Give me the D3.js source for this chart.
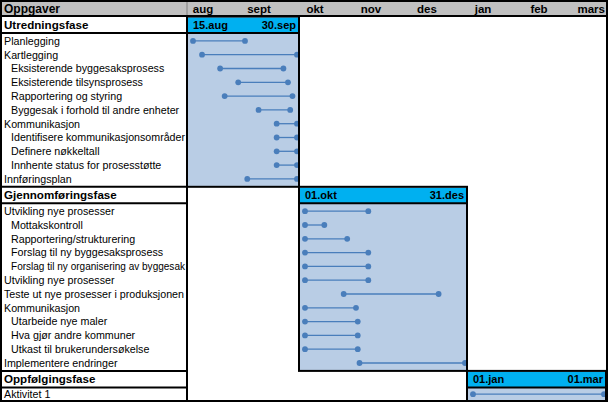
<!DOCTYPE html>
<html><head><meta charset="utf-8">
<script src="https://cdn.jsdelivr.net/npm/d3@7"></script>
<style>
body{margin:0;background:#fff}
svg{display:block;font-family:"Liberation Sans",Arial,sans-serif}
</style>
</head><body>
<svg id="c" width="613" height="404"></svg>
<script>
// ---------- data ----------
const months = ["aug","sept","okt","nov","des","jan","feb","mars"];
const phaseNames = ["Utredningsfase","Gjennomføringsfase","Oppfølgingsfase"];
const phaseStart = ["2011-08-15","2011-10-01","2012-01-01"];
const phaseEnd   = ["2011-09-30","2011-12-31","2012-03-01"];
const phaseFirstMonth = ["aug","okt","jan"];
const phaseLastMonth  = ["sept","des","mars"];

const taskNames = [
  "Planlegging","Kartlegging","Eksisterende byggesaksprosess","Eksisterende tilsynsprosess",
  "Rapportering og styring","Byggesak i forhold til andre enheter","Kommunikasjon",
  "Identifisere kommunikasjonsområder","Definere nøkkeltall","Innhente status for prosesstøtte",
  "Innføringsplan",
  "Utvikling nye prosesser","Mottakskontroll","Rapportering/strukturering",
  "Forslag til ny byggesaksprosess","Forslag til ny organisering av byggesak",
  "Utvikling nye prosesser","Teste ut nye prosesser i produksjonen","Kommunikasjon",
  "Utarbeide nye maler","Hva gjør andre kommuner","Utkast til brukerundersøkelse",
  "Implementere endringer",
  "Aktivitet 1"
];
const taskLevel = [0,0,1,1,1,1,0,1,1,1,0, 0,1,1,1,1,0,0,0,1,1,1,0, 0];
const taskPhase = [0,0,0,0,0,0,0,0,0,0,0, 1,1,1,1,1,1,1,1,1,1,1,1, 2];
const taskStart = [
  "2011-08-15","2011-08-19","2011-08-27","2011-09-04","2011-08-29","2011-09-13","2011-09-21",
  "2011-09-21","2011-09-21","2011-09-21","2011-09-08",
  "2011-10-01","2011-10-01","2011-10-01","2011-10-01","2011-10-01","2011-10-01","2011-10-23",
  "2011-10-01","2011-10-01","2011-10-01","2011-10-01","2011-11-01",
  "2012-01-01"
];
const taskEnd = [
  "2011-09-07","2011-09-30","2011-09-24","2011-09-26","2011-09-28","2011-09-27","2011-09-30",
  "2011-09-30","2011-09-30","2011-09-30","2011-09-30",
  "2011-11-06","2011-10-12","2011-10-25","2011-11-06","2011-11-06","2011-11-06","2011-12-16",
  "2011-10-30","2011-10-31","2011-10-31","2011-10-31","2011-12-31",
  "2012-03-01"
];
const headerLabel = "Oppgaver";

// ---------- setup ----------
const parse = d3.timeParse("%Y-%m-%d");
const no = d3.timeFormatLocale({
  dateTime:"%A %e. %B %Y", date:"%d.%m.%Y", time:"%H:%M:%S", periods:["AM","PM"],
  days:["søndag","mandag","tirsdag","onsdag","torsdag","fredag","lørdag"],
  shortDays:["søn","man","tir","ons","tor","fre","lør"],
  months:["januar","februar","mars","april","mai","juni","juli","august","september","oktober","november","desember"],
  shortMonths:["jan","feb","mar","apr","mai","jun","jul","aug","sep","okt","nov","des"]
});
const fmt = no.format("%d.%b");

const svg = d3.select("#c");
const tableLeft = 1, tableRight = 607, taskColX = 187, headerBottom = 16, tableBottom = 401;
const phaseH = 14.5, taskH = 13.8;
const blue = "#B9CDE5", cyan = "#00B0F0", gray = "#C0C0C0", dot = "#4A7EBB";

const xMonth = d3.scaleBand().domain(months).range([188, 188 + months.length * 56]);
const bw = xMonth.bandwidth();

// rows
const rows = [];
phaseNames.forEach((p, pi) => {
  rows.push({type:"phase", p: pi, name: p});
  taskNames.forEach((t, ti) => { if (taskPhase[ti] === pi) rows.push({type:"task", p: pi, i: ti, name: t, level: taskLevel[ti]}); });
});
let y = headerBottom + 1.5;
rows.forEach((r, k) => {
  if (r.type === "phase") { if (k > 0) y += 2; r.y0 = y; y += phaseH; r.y1 = y; y += 2; }
  else { r.y0 = y; y += taskH; r.y1 = y; }
});
rows[rows.length - 1].y1 = tableBottom - 1;
rows.forEach(r => r.cy = (r.y0 + r.y1) / 2);

// phase geometry
const phases = phaseNames.map((n, pi) => {
  const pr = rows.find(r => r.type === "phase" && r.p === pi);
  const tr = rows.filter(r => r.type === "task" && r.p === pi);
  const x0 = xMonth(phaseFirstMonth[pi]);
  const x1 = Math.min(xMonth(phaseLastMonth[pi]) + bw, tableRight);
  const s = parse(phaseStart[pi]), e = parse(phaseEnd[pi]);
  return {pi, pr, tr, x0, x1, s, e,
    x: d3.scaleTime().domain([s, e]).range([x0 + 5, x1 - 3]),
    bottom: tr[tr.length - 1].y1 + 1};
});

// header
svg.append("rect").attr("x", tableLeft).attr("y", 1).attr("width", tableRight - tableLeft).attr("height", headerBottom - 1).attr("fill", gray);
svg.append("line").attr("x1", taskColX).attr("x2", taskColX).attr("y1", 2).attr("y2", headerBottom - 1)
  .attr("stroke", "#808080").attr("stroke-width", 1);
svg.append("text").attr("x", 4).attr("y", 8.6).attr("dy", "0.36em")
  .attr("font-size", 12).attr("font-weight", "bold").text(headerLabel);
svg.selectAll("text.month").data(months).join("text").attr("class", "month")
  .attr("y", 8.6).attr("dy", "0.36em").attr("font-size", 11.5).attr("font-weight", "bold")
  .attr("text-anchor", "middle").text(d => d)
  .each(function(d) {
    const w = this.getComputedTextLength();
    let cx = xMonth(d) + 15;
    if (cx + w / 2 > tableRight - 2) cx = tableRight - 2 - w / 2;
    d3.select(this).attr("x", cx);
  });

// phase boxes
phases.forEach(ph => {
  const top = ph.pr.y0 - 1;
  svg.append("rect").attr("x", ph.x0).attr("y", top).attr("width", ph.x1 - ph.x0).attr("height", ph.bottom - top).attr("fill", blue);
  svg.append("rect").attr("x", ph.x0).attr("y", ph.pr.y0).attr("width", ph.x1 - ph.x0).attr("height", ph.pr.y1 - ph.pr.y0 + 1).attr("fill", cyan);
  svg.append("text").attr("x", ph.x0 + 5).attr("y", ph.pr.cy).attr("dy", "0.36em")
    .attr("font-size", 11).attr("font-weight", "bold").text(fmt(ph.s));
  svg.append("text").attr("x", ph.x1 - 4).attr("y", ph.pr.cy).attr("dy", "0.36em").attr("text-anchor", "end")
    .attr("font-size", 11).attr("font-weight", "bold").text(fmt(ph.e));
});

// task dumbbells
phases.forEach(ph => {
  const g = svg.append("g");
  ph.tr.forEach(r => {
    const xs = ph.x(parse(taskStart[r.i])), xe = ph.x(parse(taskEnd[r.i]));
    g.append("line").attr("x1", xs).attr("x2", xe).attr("y1", r.cy).attr("y2", r.cy)
      .attr("stroke", dot).attr("stroke-width", 1.3);
    g.selectAll(null).data([xs, xe]).join("circle").attr("cx", d => d).attr("cy", r.cy).attr("r", 2.9).attr("fill", dot);
  });
});

// row labels
svg.selectAll("text.row").data(rows).join("text").attr("class", "row")
  .attr("x", d => d.type === "phase" ? 4 : (d.level ? 11 : 4))
  .attr("y", d => d.cy).attr("dy", "0.36em")
  .attr("font-size", d => d.type === "phase" ? 11.6 : 10.7)
  .attr("font-weight", d => d.type === "phase" ? "bold" : "normal")
  .text(d => d.name)
  .each(function(d) {
    const x = +this.getAttribute("x");
    const maxW = taskColX - 2 - x;
    if (this.getComputedTextLength() > maxW) {
      d3.select(this).attr("textLength", maxW).attr("lengthAdjust", "spacingAndGlyphs");
    }
  });

// borders
const L = (x1, y1, x2, y2) => svg.append("line").attr("x1", x1).attr("y1", y1).attr("x2", x2).attr("y2", y2)
  .attr("stroke", "#000").attr("stroke-width", 2);
L(tableLeft, headerBottom, tableRight, headerBottom);
L(taskColX, headerBottom, taskColX, tableBottom);
rows.filter(r => r.type === "phase").forEach((r, k) => {
  if (k > 0) L(tableLeft, r.y0 - 1, taskColX, r.y0 - 1);
  L(tableLeft, r.y1 + 1, taskColX, r.y1 + 1);
});
phases.forEach(ph => {
  const top = ph.pr.y0 - 1;
  svg.append("rect").attr("x", ph.x0 - 1).attr("y", top).attr("width", ph.x1 - ph.x0).attr("height", ph.bottom - top)
    .attr("fill", "none").attr("stroke", "#000").attr("stroke-width", 2);
  L(ph.x0 - 1, ph.pr.y1 + 1, ph.x1 - 1, ph.pr.y1 + 1);
});
svg.append("rect").attr("x", tableLeft).attr("y", 1).attr("width", tableRight - tableLeft).attr("height", tableBottom - 1)
  .attr("fill", "none").attr("stroke", "#000").attr("stroke-width", 2);
</script>
</body></html>
